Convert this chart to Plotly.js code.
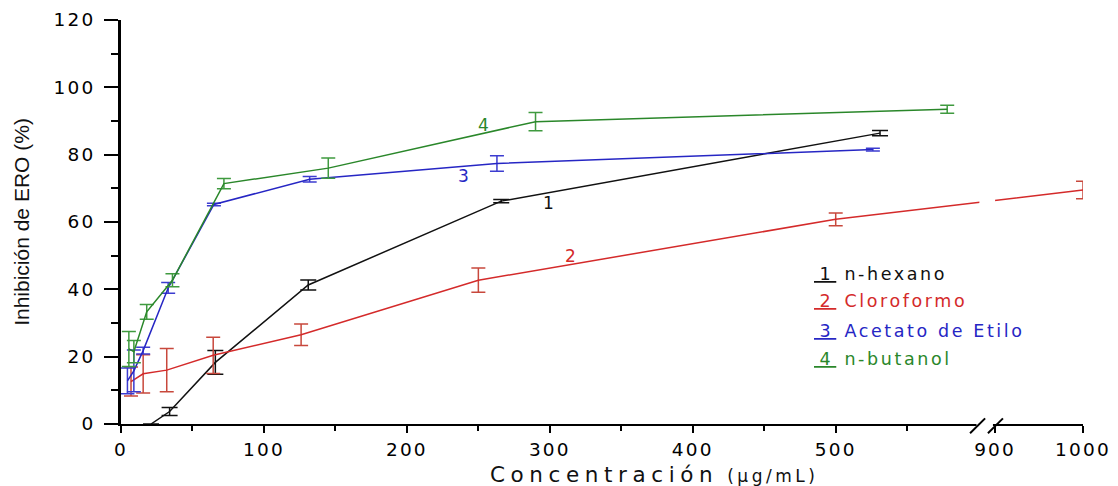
<!DOCTYPE html>
<html>
<head>
<meta charset="utf-8">
<script src="https://cdn.plot.ly/plotly-3.0.1.min.js"></script>
<style>
  html, body { margin: 0; padding: 0; background: #fff; }
  #chart { width: 1118px; height: 486px; }
  .xtick text, .ytick text { letter-spacing: 2.2px; }
</style>
</head>
<body>
<div id="chart"></div>
<script>
// ---------- data ----------
const hexX   = [21, 34, 66, 131, 266, 531];
const hexY   = [0, 3.7, 18.3, 41.3, 66.2, 86.4];
const hexErr = [0, 1.2, 3.5, 1.5, 0.5, 0.8];

const cloX   = [7, 15.5, 32, 64.5, 126, 250, 500, 1000];
const cloY   = [12.6, 14.9, 16.0, 20.4, 26.5, 42.7, 60.8, 69.5];
const cloErr = [4.3, 5.7, 6.4, 5.4, 3.2, 3.6, 1.9, 2.6];

const aceX   = [4.5, 9, 15.5, 33, 65, 132, 263, 526];
const aceY   = [12.8, 15.8, 21.8, 40.4, 65.2, 72.7, 77.4, 81.5];
const aceErr = [3.8, 6.2, 1.0, 1.6, 0.4, 0.8, 2.3, 0.4];

const butX   = [5.5, 9, 18, 36, 72, 145, 290, 578];
const butY   = [22.3, 21.5, 33.3, 42.7, 71.4, 76, 89.8, 93.5];
const butErr = [5.2, 3.3, 2.2, 1.9, 1.5, 3, 2.7, 1.2];

const seriesNames = ['n-hexano', 'Cloroformo', 'Acetato de Etilo', 'n-butanol'];
const seriesNums  = ['1', '2', '3', '4'];

const xTickVals  = [0, 100, 200, 300, 400, 500, 900, 1000];
const xTickText  = ['0', '100', '200', '300', '400', '500', '900', '1000'];
const xMinorVals = [50, 150, 250, 350, 450, 550];

// ---------- broken x axis: map concentration -> axis coordinate ----------
const BREAK_LO = 600, BREAK_HI = 900;
const SEG2_START = 611.5, SEG2_SCALE = 0.615;
function toAxis(v) { return v <= BREAK_LO ? v : SEG2_START + (v - BREAK_HI) * SEG2_SCALE; }
const X_MAX = toAxis(1000);
function toPaper(d) { return d / X_MAX; }

const colors    = ['#111111', '#d42a2a', '#2626c4', '#2a872a'];
const errColors = ['#111111', '#c8483c', '#3c3cd0', '#3f9a3f'];
const errWidths = [8, 7, 7, 7];

const xs = [hexX, cloX, aceX, butX], ys = [hexY, cloY, aceY, butY], es = [hexErr, cloErr, aceErr, butErr];

const traces = xs.map((xv, i) => ({
  type: 'scatter', mode: 'lines',
  name: seriesNames[i],
  x: xv.map(toAxis), y: ys[i],
  customdata: xv,
  line: { color: colors[i], width: 1.5 },
  error_y: { type: 'data', array: es[i], visible: true, color: errColors[i], thickness: 1.5, width: errWidths[i] },
  hovertemplate: '%{customdata}: %{y}<extra>' + seriesNames[i] + '</extra>'
}));

// curve labels
const curveLabelPos = [[299, 65.6], [314.5, 50], [239.3, 73.6], [253.6, 88.8]];
const annotations = curveLabelPos.map((p, i) => ({
  x: p[0], y: p[1], xref: 'x', yref: 'y', text: seriesNums[i], showarrow: false,
  font: { family: 'DejaVu Sans', size: 17, color: colors[i] }
}));

// legend block (numbered, underlined)
const legendY = [0.3705, 0.3052, 0.2309, 0.1601];
seriesNames.forEach((n, i) => {
  annotations.push({
    xref: 'paper', yref: 'paper', x: 0.718, y: legendY[i], xanchor: 'left', yanchor: 'middle',
    showarrow: false,
    text: '<span style="text-decoration:underline">\u00a0' + seriesNums[i] + '\u00a0</span>' +
          '<span style="letter-spacing:2.6px">\u00a0' + n + '</span>',
    font: { family: 'DejaVu Sans', size: 17.5, color: colors[i] }
  });
});

// x axis title
annotations.push({
  xref: 'paper', yref: 'paper', x: 0.554, y: -0.125, xanchor: 'center', yanchor: 'middle', showarrow: false,
  text: '<span style="letter-spacing:5.6px">Concentración</span><span style="font-size:17px;letter-spacing:3.5px">\u00a0(μg/mL)</span>',
  font: { family: 'DejaVu Sans', size: 21.5, color: '#111' }
});

// break marks on the x axis
const BR = 604; // axis coordinate of the break
const shapes = [
  { type: 'rect', xref: 'paper', yref: 'paper', x0: toPaper(BR - 3.5), x1: toPaper(BR + 7.5), y0: 0.012, y1: 1,
    fillcolor: '#fff', line: { width: 0 }, layer: 'above' },
  { type: 'rect', xref: 'paper', yref: 'paper', x0: toPaper(BR - 5.5), x1: toPaper(BR + 6), y0: -0.012, y1: 0.012,
    fillcolor: '#fff', line: { width: 0 }, layer: 'above' },
  { type: 'line', xref: 'paper', yref: 'paper', x0: toPaper(BR - 10), y0: -0.023, x1: toPaper(BR + 0.5), y1: 0.014,
    line: { color: '#000', width: 2 }, layer: 'above' },
  { type: 'line', xref: 'paper', yref: 'paper', x0: toPaper(BR + 2.5), y0: -0.023, x1: toPaper(BR + 13), y1: 0.014,
    line: { color: '#000', width: 2 }, layer: 'above' }
];

const tickFont = { family: 'DejaVu Sans', size: 18.5, color: '#000' };

const layout = {
  width: 1118, height: 486,
  margin: { l: 121, r: 35, t: 20, b: 62 },
  paper_bgcolor: '#fff', plot_bgcolor: '#fff',
  showlegend: false,
  xaxis: {
    range: [0, X_MAX], showgrid: false, zeroline: false,
    showline: true, linecolor: '#000', linewidth: 2.2,
    tickmode: 'array', tickvals: xTickVals.map(toAxis), ticktext: xTickText,
    ticks: 'outside', ticklen: 7, tickwidth: 2, tickcolor: '#000',
    minor: { tickmode: 'array', tickvals: xMinorVals.map(toAxis), ticks: 'outside', ticklen: 5, tickwidth: 2, tickcolor: '#000', showgrid: false },
    tickfont: tickFont, ticklabelstandoff: 1
  },
  yaxis: {
    range: [0, 120], showgrid: false, zeroline: false,
    showline: true, linecolor: '#000', linewidth: 2.6,
    tick0: 0, dtick: 20,
    ticks: 'outside', ticklen: 14, tickwidth: 2, tickcolor: '#000',
    minor: { dtick: 10, ticks: 'outside', ticklen: 7, tickwidth: 2, tickcolor: '#000', showgrid: false },
    tickfont: tickFont, ticklabelstandoff: 5,
    title: { text: 'Inhibición de ERO (%)', font: { family: 'Liberation Sans, Arial, sans-serif', size: 21, color: '#111' }, standoff: 19 }
  },
  annotations: annotations,
  shapes: shapes
};

Plotly.newPlot('chart', traces, layout, { displayModeBar: false, responsive: false });
</script>
</body>
</html>
